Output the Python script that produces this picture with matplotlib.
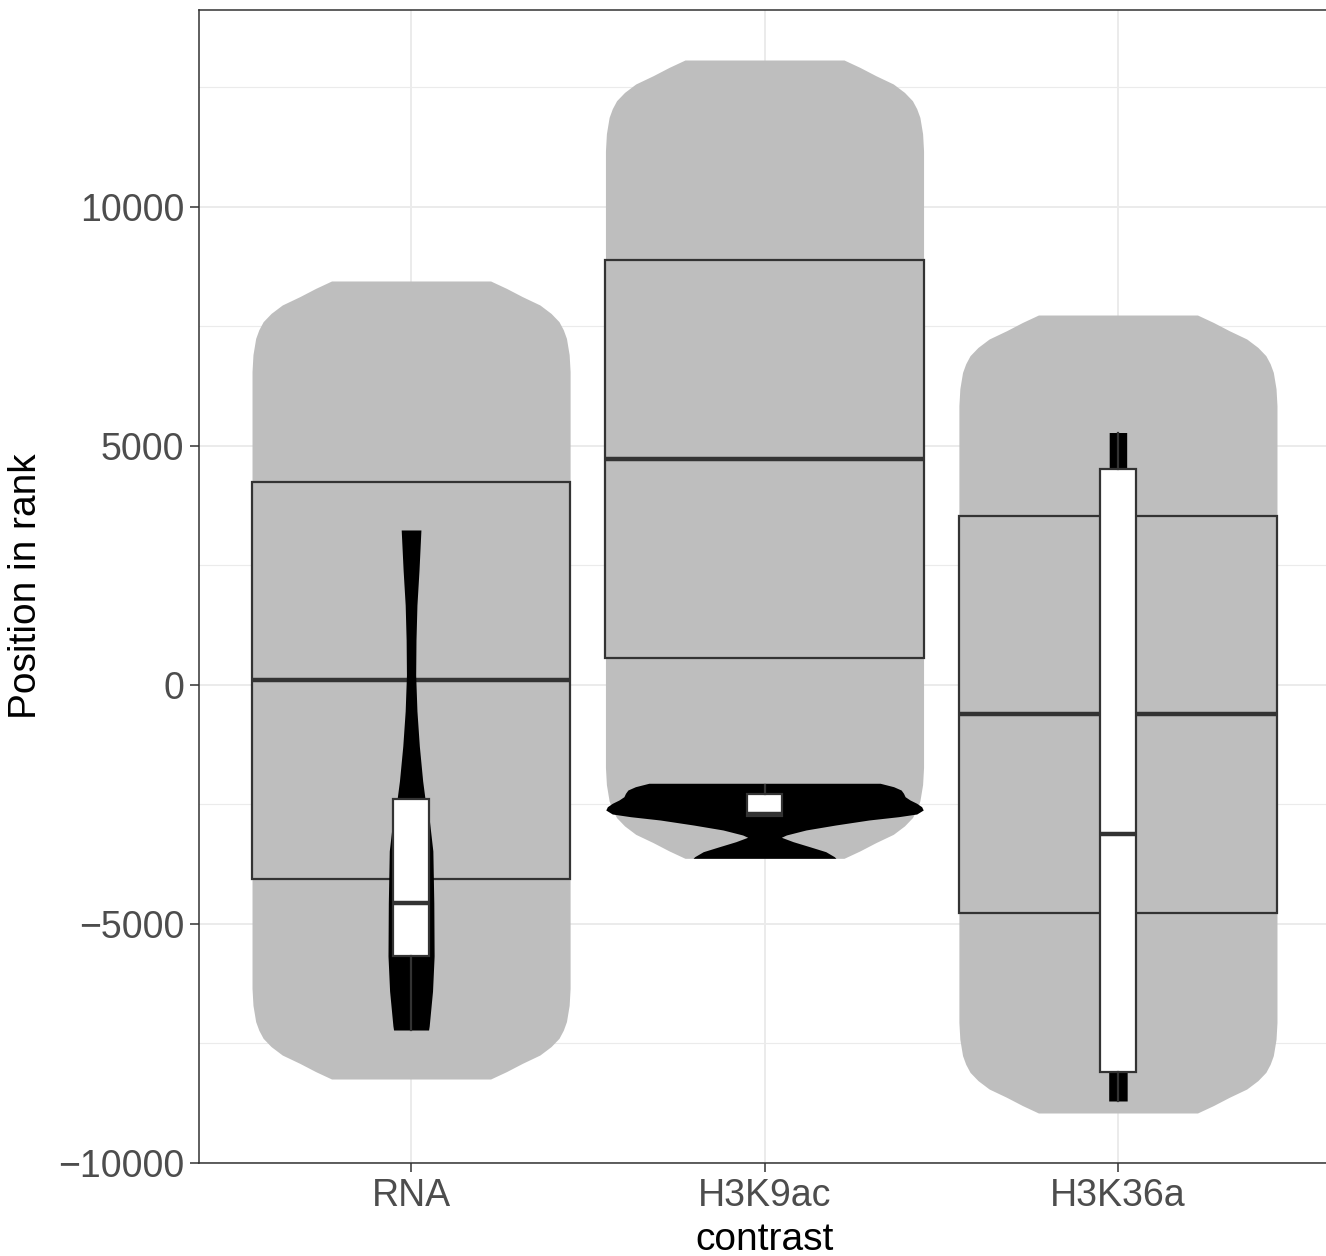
import matplotlib
matplotlib.use("Agg")
import matplotlib.pyplot as plt
import numpy as np

plt.rcParams['font.family'] = ['Liberation Sans', 'DejaVu Sans']

categories = ["RNA", "H3K9ac", "H3K36a"]

# outer (grey) violins: y levels and relative half-width
grey_rna_y = [8452, 8297, 8124, 7950, 7774, 7601, 7433, 7251, 6910, 6555,
              -6346, -6701, -7042, -7224, -7392, -7565, -7741, -7915, -8088, -8243]
grey_k9_y = [13075, 12920, 12747, 12573, 12397, 12224, 12056, 11874, 11533, 11178,
             -1729, -2084, -2425, -2607, -2775, -2948, -3124, -3298, -3471, -3626]
grey_k36_y = [7740, 7585, 7412, 7238, 7062, 6889, 6721, 6539, 6198, 5843,
              -7057, -7412, -7753, -7935, -8103, -8276, -8452, -8626, -8799, -8954]
grey_w = [0.50, 0.60, 0.70, 0.81, 0.88, 0.93, 0.957, 0.977, 0.994, 1.0,
          1.0, 0.994, 0.977, 0.957, 0.93, 0.88, 0.81, 0.70, 0.60, 0.50]

# inner (black) violins
black_rna_y = [3243, 2406, 1674, 941, 209, -544, -1276, -2008, -2364, -2741,
               -3473, -4561, -5669, -6402, -7134, -7218]
black_rna_w = [0.062, 0.050, 0.037, 0.031, 0.029, 0.037, 0.052, 0.073, 0.087, 0.112,
               0.137, 0.143, 0.145, 0.135, 0.114, 0.110]
black_k9_y = [-2056, -2128, -2197, -2266, -2337, -2406, -2475, -2546, -2615, -2699,
              -2755, -2824, -2929, -3033, -3138, -3186, -3278, -3383, -3487, -3592, -3626]
black_k9_w = [0.727, 0.812, 0.859, 0.874, 0.884, 0.915, 0.957, 0.988, 0.998, 0.957,
              0.843, 0.657, 0.447, 0.261, 0.137, 0.106, 0.180, 0.284, 0.385, 0.439, 0.449]
black_k36_y = [5282, 4519, 0, -8096, -8703]
black_k36_w = [0.055, 0.055, 0.07, 0.058, 0.058]

# outer boxes (no whiskers)
outer_q1 = [-4059, 565, -4770]
outer_med = [105, 4728, -607]
outer_q3 = [4247, 8891, 3536]

# inner boxes
inner_q1 = [-5669, -2740, -8096]
inner_med = [-4561, -2700, -3117]
inner_q3 = [-2390, -2280, 4519]
inner_lo = [-7218, -2740, -8703]
inner_hi = [-2390, -2092, 5282]

W, H = 1326, 1256
fig = plt.figure(figsize=(W / 100, H / 100), dpi=100)
ax = fig.add_axes([199 / W, (H - 1163) / H, (1330 - 199) / W, (1163 - 10) / H])

pos = np.arange(1, len(categories) + 1)
half = 0.45

grey_y = [grey_rna_y, grey_k9_y, grey_k36_y]
for p, yy in zip(pos, grey_y):
    ww = np.array(grey_w) * half
    ax.fill_betweenx(yy, p - ww, p + ww, color="#BEBEBE", lw=0, zorder=2)

def stats(q1, med, q3, lo, hi):
    return [dict(q1=a, med=b, q3=c, whislo=d, whishi=e, fliers=[])
            for a, b, c, d, e in zip(q1, med, q3, lo, hi)]

ax.bxp(stats(outer_q1, outer_med, outer_q3, outer_q1, outer_q3), positions=pos,
       widths=0.9, patch_artist=True, showcaps=False, showfliers=False,
       boxprops=dict(facecolor="#BEBEBE", edgecolor="#333333", lw=1.6),
       medianprops=dict(color="#333333", lw=3.2, solid_capstyle="butt"),
       whiskerprops=dict(color="#333333", lw=1.6), zorder=3, manage_ticks=False)

black_y = [black_rna_y, black_k9_y, black_k36_y]
black_w = [black_rna_w, black_k9_w, black_k36_w]
for p, yy, ww in zip(pos, black_y, black_w):
    ww = np.array(ww) * half
    ax.fill_betweenx(yy, p - ww, p + ww, color="black", lw=0, zorder=4)

ax.bxp(stats(inner_q1, inner_med, inner_q3, inner_lo, inner_hi), positions=pos,
       widths=0.1, patch_artist=True, showcaps=False, showfliers=False,
       boxprops=dict(facecolor="white", edgecolor="#333333", lw=1.6),
       medianprops=dict(color="#333333", lw=3.2, solid_capstyle="butt"),
       whiskerprops=dict(color="#333333", lw=1.6), zorder=5, manage_ticks=False)

ax.set_xlim(0.4, 3.6)
ax.set_ylim(-10000, 14121)
ax.set_xticks(pos)
ax.set_xticklabels(categories)
ax.set_yticks([-10000, -5000, 0, 5000, 10000])
ax.set_yticks([-7500, -2500, 2500, 7500, 12500], minor=True)
ax.grid(which="major", color="#EBEBEB", lw=1.4, zorder=0)
ax.grid(which="minor", axis="y", color="#EBEBEB", lw=0.8, zorder=0)
ax.set_axisbelow(True)

for s in ax.spines.values():
    s.set_color("#333333")
    s.set_linewidth(1.1)
ax.tick_params(which="major", length=6.5, width=1.1, color="#333333",
               labelsize=27, labelcolor="#4D4D4D", pad=4)
ax.tick_params(which="minor", length=0)

ax.set_xlabel("contrast", fontsize=28, labelpad=6)
ax.set_ylabel("Position in rank", fontsize=28, labelpad=10)

fig.savefig("out.png", dpi=100)
